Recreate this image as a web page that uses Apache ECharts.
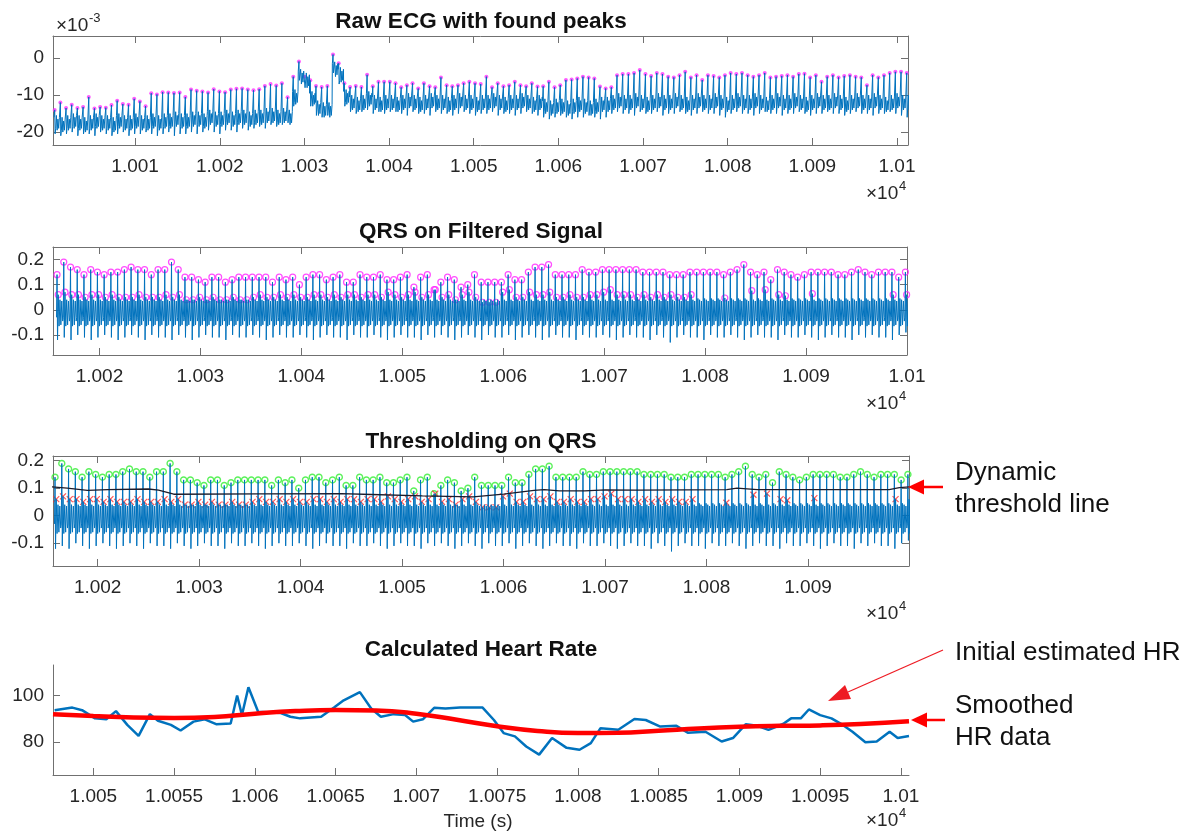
<!DOCTYPE html>
<html>
<head>
<meta charset="utf-8">
<title>ECG peak detection</title>
<script src="https://cdn.jsdelivr.net/npm/echarts@6/dist/echarts.min.js"></script>
<style>
  html, body { margin: 0; padding: 0; background: #fff; }
  #chart { width: 1196px; height: 838px; }
</style>
</head>
<body>
<div id="chart"></div>
<script>
// ---- raw ECG, one value per beat, in units of 1e-3 ----
const rawStart = 10000.5;   // first R peak (s)
const rawPeriod = 0.671;    // mean RR interval (s)
const rawPeak = [
  -14,-12,-13.5,-12.6,-13.5,-13.2,-10.5,-13.6,-13.2,-13.4,-12.7,-11.5,-12.4,-12.6,-11,-11.7,-13,
  -9.5,-9.8,-9.2,-9.3,-9.4,-9.3,-10.5,
  -8.5,-8.8,-9,-9.3,-8.4,-9,-9.2,-8.5,-8.3,-8.2,-8.5,-8.7,
  -8.4,-7.5,-7,-7.4,-6.8,-10.6,
  -5,-0.9,-5,-6,-7.5,-7.8,-7.5,1,-1.4,-6.8,-7.8,-7.5,-7.8,-4.5,-7.6,-6.4,-6.4,-6.4,-6.8,
  -7.9,-7.3,-6.8,-8.2,-6.8,-7.6,-7.9,-5.2,-7.3,-7.6,
  -7.3,-6.8,-6.4,-6.8,-7.0,-5.0,-7.9,-6.8,-7.6,-7.3,
  -6.4,-7.3,-7.6,-6.8,-7.7,-7.6,-6.4,-7.9,-7.3,-5.9,
  -5.8,-5.5,-5.0,-5.2,-5.5,-7.7,-8.2,-7.9,-4.6,-4.3,
  -4.3,-4.0,-3.2,-4.3,-4.8,-4.0,-4.3,-5.0,-5.2,-4.6,
  -3.7,-5.2,-4.6,-5.9,-4.6,-4.8,-5.2,-4.6,-4.0,-4.3,
  -4.0,-4.6,-5.0,-4.6,-4.0,-5.2,-5.0,-4.8,-4.6,-5.0,
  -4.3,-4.2,-5.2,-4.6,-6.4,-5.0,-4.6,-5.2,-4.8,-4.6,
  -5.0,-5.2,-7.3,-4.6,-5.2,-4.6,-4.0,-3.7,-3.7,-4.0
];
const rawBase = [
  -16,-16.5,-16,-15.5,-16,-16.5,-16,-15.5,-16,-16,-16.5,-15.5,-16,-16,-15.5,-16,-16,
  -15.5,-16,-15.5,-15.5,-15,-15.5,-15.5,
  -15,-15,-15.5,-14.5,-15,-15,-14.5,-15,-14.5,-14.5,-15,-14.5,
  -14.5,-14,-14,-14.5,-14,-14.5,
  -9,-3.5,-4.5,-9.5,-12,-12.5,-12.5,-1.5,-3,-9,-10.5,-11,-10.5,-9.5,-10.5,-11,-10.5,-10.5,-11,
  -10.5,-10,-10.5,-11,-10.5,-10,-10.5,-10.5,-11,-10.5,-10,-10.5,-10.5,-11,-10.5,-10.5,-10,-10.5,-11,-10.5,-10.5,-10,-10.5,-11,-10.5,
  -11.5,-12,-11.5,-11.5,-12,-11.5,-11,-11.5,-12,-11.5,-11,-11,
  -10.5,-10,-10.5,-10.5,-10,-10.5,-11,-10.5,-10,-10.5,
  -10.5,-10,-10.5,-11,-10.5,-10,-10.5,-10.5,-10,-10.5,
  -11,-10.5,-10,-10.5,-10.5,-10,-10.5,-11,-10.5,-10,
  -10.5,-10.5,-10,-10.5,-11,-10.5,-10,-10.5,-10.5,-10,
  -10.5,-11,-10.5,-10,-10.5,-10.5,-10,-10.5,-11,-10.5,
  -10,-10.5,-10.5
];
const rawTrough = [
  -20.5,-21,-20.5,-20,-21,-20.5,-20.5,-21,-20,-20.5,-21,-20.5,-20,-21,-20.5,-20.5,-20,
  -20.5,-21,-20.5,-20,-21,-20.5,-20.5,
  -20,-20.5,-20,-19.5,-20,-20.5,-19.5,-19.5,-20,-19,-19.5,-19,
  -18.5,-19,-18,-18.5,-18,-17.5,
  -13,-6,-8,-13,-15.5,-16,-15.5,-4,-7,-13,-14.5,-15,-14.5,-14,-15,-14.5,-15,-14.5,-14.5,
  -15,-15.5,-14.5,-15,-15,-15.5,-14.5,-15,-15,-15.5,-15,-14.5,-15,-15.5,-15,-15,-14.5,-15.5,-15,-15,-15.5,-15,-14.5,-15,-15.5,
  -16,-16.5,-16,-15.5,-16,-16.5,-16,-16,-15.5,-16,-16.5,-16,
  -15,-14.5,-15,-15,-15.5,-14.5,-15,-15,-14.5,-15.5,
  -15,-15,-14.5,-15,-15.5,-15,-14.5,-15,-15,-15.5,
  -16,-15,-14.5,-15,-15,-15.5,-15,-14.5,-15,-15,
  -15.5,-15,-15,-14.5,-15,-15.5,-15,-15,-14.5,-15,
  -15,-15.5,-15,-14.5,-15,-15,-15.5,-15,-15,-14.5,
  -15,-15.5,-16
];
// band between beats, relative to the baseline
const rawFillOffset = [0.12, 0.2, 0.29, 0.38, 0.47, 0.56];
const rawFillLevel = [-3, 0.5, -3.5, -0.5, -3, 0];

// ---- QRS-filtered signal, one value per beat ----
const qrsStart = 10015.8;
const qrsPeriod = 0.667;
const qrsPeak = [
  0.14,0.19,0.17,0.16,0.14,0.16,0.15,0.14,0.15,0.15,
  0.16,0.17,0.16,0.16,0.14,0.16,0.16,0.19,0.16,0.13,
  0.13,0.12,0.11,0.13,0.13,0.11,0.12,0.13,0.13,0.13,
  0.13,0.13,0.11,0.13,0.12,0.13,0.10,0.13,0.14,0.14,
  0.12,0.13,0.14,0.11,0.11,0.14,0.13,0.13,0.14,0.12,
  0.12,0.13,0.14,0.09,0.13,0.14,0.08,0.11,0.13,0.12,
  0.09,0.10,
  0.14,0.11,0.11,0.11,0.11,0.14,0.12,0.12,0.15,0.17,
  0.17,0.18,0.14,0.14,0.14,0.14,0.16,0.15,0.15,0.16,
  0.16,0.16,0.16,0.16,0.16,0.15,0.15,0.15,0.15,0.14,
  0.14,0.14,0.15,0.15,0.15,0.15,0.15,0.14,0.15,0.16,
  0.18,0.15,0.14,0.15,0.12,0.16,0.15,0.14,0.13,0.14,
  0.15,0.15,0.15,0.15,0.14,0.14,0.15,0.16,0.15,0.14,
  0.15,0.15,0.15,0.13,0.15
];
const qrsTrough = [
  -0.12,-0.11,-0.12,-0.10,-0.11,-0.12,-0.11,-0.10,-0.11,-0.12,
  -0.11,-0.10,-0.11,-0.12,-0.10,-0.11,-0.11,-0.12,-0.10,-0.11,
  -0.12,-0.11,-0.10,-0.11,-0.11,-0.12,-0.10,-0.11,-0.11,-0.10,
  -0.11,-0.12,-0.11,-0.10,-0.11,-0.11,-0.10,-0.11,-0.12,-0.11,
  -0.10,-0.11,-0.11,-0.12,-0.10,-0.11,-0.11,-0.10,-0.11,-0.12,
  -0.11,-0.10,-0.11,-0.11,-0.12,-0.10,-0.11,-0.10,-0.11,-0.12,
  -0.11,-0.10,-0.11,-0.12,-0.10,-0.11,-0.11,-0.10,-0.12,-0.11,
  -0.10,-0.11,-0.12,-0.11,-0.10,-0.11,-0.11,-0.12,-0.10,-0.11,
  -0.11,-0.10,-0.11,-0.12,-0.11,-0.10,-0.11,-0.11,-0.12,-0.10,
  -0.11,-0.13,-0.11,-0.10,-0.11,-0.11,-0.12,-0.10,-0.11,-0.11,
  -0.10,-0.11,-0.12,-0.11,-0.10,-0.11,-0.11,-0.12,-0.10,-0.11,
  -0.11,-0.10,-0.11,-0.12,-0.11,-0.10,-0.11,-0.11,-0.12,-0.10,
  -0.11,-0.10,-0.11,-0.11,-0.12,-0.10,-0.09
];
// secondary (sub-threshold) peaks, null where none was found
const qrsSecond = [
  0.06,0.07,0.06,0.06,0.05,0.06,0.06,0.05,0.06,0.05,
  0.05,0.05,0.06,0.05,0.05,0.05,0.06,0.05,0.06,0.04,
  0.04,0.05,0.04,0.05,0.04,0.04,0.05,0.04,0.04,0.05,
  0.06,0.05,0.05,0.06,0.05,0.06,0.05,0.05,0.06,0.06,
  0.05,0.06,0.05,0.06,0.06,0.05,0.06,0.06,0.05,0.07,
  0.06,0.05,0.06,0.07,0.05,0.06,0.08,0.05,0.06,0.04,
  0.06,0.07,
  0.05,0.03,0.03,0.03,0.07,0.08,0.05,0.05,0.07,0.06,
  0.06,0.07,0.05,0.05,0.06,0.05,0.05,0.06,0.06,0.07,
  0.08,0.06,0.06,0.06,0.05,0.06,0.05,0.06,0.05,0.06,
  0.05,0.05,
  0.06,null,null,null,null,0.047,null,null,null,0.076,
  null,0.08,null,0.06,0.056,null,null,null,0.064,null,
  null,null,null,null,null,null,null,null,null,null,
  0.06,null,0.06
];
const qrsFillOffset = [0.12, 0.2, 0.29, 0.38, 0.47, 0.56];
const qrsFillLevel = [0.045, -0.065, 0.04, -0.06, 0.035, -0.045];

// dynamic threshold
const threshTime = [10015.5,10017,10019,10021,10025,10026,10027.5,10036,10044,10047,10052,10057,10060,10063,10064,10065.5,10068,10070,10073,10078,10082,10083,10085,10095,10098,10099,10100];
const threshValue = [0.105,0.100,0.092,0.095,0.097,0.093,0.078,0.079,0.080,0.077,0.072,0.068,0.078,0.092,0.095,0.090,0.090,0.094,0.093,0.094,0.095,0.100,0.095,0.095,0.095,0.102,0.105];

// ---- heart rate ----
const hrTime = [10047.6,10048.7,10049.3,10050.1,10050.8,10051.4,10052.1,10052.8,10053.5,10054.0,10054.8,10055.4,10056.2,10056.9,10057.6,10058.5,10058.9,10059.2,10059.6,10060.2,10061.6,10062.2,10062.8,10064.1,10064.9,10065.5,10066.5,10067.2,10067.8,10068.6,10069.3,10069.8,10070.4,10071.1,10071.8,10072.7,10074.1,10074.8,10075.4,10076.1,10076.8,10077.6,10078.4,10079.3,10080.1,10080.8,10081.4,10082.5,10083.5,10084.2,10085.1,10086.1,10086.8,10087.9,10088.9,10089.6,10090.4,10091.1,10091.8,10092.7,10093.2,10093.8,10094.3,10095.0,10095.7,10096.4,10097.0,10097.8,10098.5,10099.3,10099.8,10100.5];
const hrValue = [93.7,94.8,93.7,90.2,89.8,93.3,87.4,82.7,92.0,89.2,87.4,85.0,88.8,89.8,87.7,88.0,100.0,91.6,103.5,93.0,92.5,90.9,90.2,90.9,94.8,97.9,101.4,94.4,90.9,92.0,91.6,88.8,89.8,94.7,94.4,94.8,94.8,89.5,83.9,82.5,78.2,74.7,81.8,77.6,76.8,79.6,86.0,85.3,89.9,89.5,86.7,87.0,84.1,84.5,80.3,81.8,87.7,87.0,85.3,87.8,90.2,90.2,94.0,91.6,90.2,87.4,84.5,80.0,80.3,84.5,81.8,82.7];
const smoothTime = [10047.5,10050,10052.5,10055,10057.5,10060,10062.5,10065,10067.5,10070,10072.5,10075,10077.5,10080,10082.5,10085,10087.5,10090,10092.5,10095,10097.5,10100.5];
const smoothValue = [92.0,91.2,90.6,90.4,90.8,92.2,93.3,93.8,93.6,92.2,89.6,86.8,84.8,83.9,84.0,84.9,85.9,86.6,87.0,87.2,87.8,89.0];

// ---- ticks ----
const ticksX1 = [10010,10020,10030,10040,10050,10060,10070,10080,10090,10100];
const ticksX2 = [10020,10030,10040,10050,10060,10070,10080,10090,10100];
const ticksX3 = [10020,10030,10040,10050,10060,10070,10080,10090];
const ticksX4 = [10050,10055,10060,10065,10070,10075,10080,10085,10090,10095,10100];
const ticksY1 = [-20,-10,0];
const ticksY2 = [-0.1,0,0.1,0.2];
const ticksY4 = [80,100];

// ---------------------------------------------------------------
const FONT = '"Liberation Sans", Arial, Helvetica, sans-serif';
const AXIS = '#707070';
const TEXT = '#262626';
const BLUE = '#0072BD';

const fmtX = v => String(parseFloat((v / 1e4).toFixed(5)));
const fmtY = v => String(parseFloat(v.toFixed(3)));

function rawSignal() {
  const pts = [];
  rawPeak.forEach((p, i) => {
    const t = rawStart + i * rawPeriod;
    pts.push([t - 0.08, rawBase[i]], [t, p], [t + 0.05, rawTrough[i]]);
    rawFillOffset.forEach((o, j) => pts.push([t + o, rawBase[i] + rawFillLevel[j]]));
  });
  return pts;
}
function qrsSignal() {
  const pts = [];
  qrsPeak.forEach((p, i) => {
    const t = qrsStart + i * qrsPeriod;
    pts.push([t - 0.05, -0.03], [t, p], [t + 0.05, qrsTrough[i]]);
    qrsFillOffset.forEach((o, j) => {
      const v = (j === 0 && qrsSecond[i] != null) ? qrsSecond[i] : qrsFillLevel[j];
      pts.push([t + o, v]);
    });
  });
  return pts;
}
const rawPeakPts = rawPeak.map((p, i) => [rawStart + i * rawPeriod, p]);
const qrsPeakPts = qrsPeak.map((p, i) => [qrsStart + i * qrsPeriod, p]);
const qrsSecondPts = qrsSecond.map((p, i) => [qrsStart + i * qrsPeriod + qrsFillOffset[0], p]).filter(d => d[1] != null);

function xAxis(grid, min, max, ticks, labels) {
  return {
    type: 'value', gridIndex: grid, min, max, position: 'bottom',
    axisLine: { show: true, onZero: false, lineStyle: { color: AXIS, width: 1 } },
    axisTick: { show: true, inside: true, length: 7, customValues: ticks, lineStyle: { color: AXIS } },
    axisLabel: { show: labels, customValues: ticks, formatter: fmtX, color: TEXT, fontSize: 19, margin: 12, fontFamily: FONT },
    splitLine: { show: false }
  };
}
function xAxisTop(grid, min, max, ticks) {
  return {
    type: 'value', gridIndex: grid, min, max, position: 'top',
    axisLine: { show: true, onZero: false, lineStyle: { color: AXIS, width: 1 } },
    axisTick: { show: true, inside: true, length: 7, customValues: ticks, lineStyle: { color: AXIS } },
    axisLabel: { show: false }, splitLine: { show: false }
  };
}
function yAxis(grid, min, max, ticks, side) {
  return {
    type: 'value', gridIndex: grid, min, max, position: side,
    axisLine: { show: true, onZero: false, lineStyle: { color: AXIS, width: 1 } },
    axisTick: { show: true, inside: true, length: 7, customValues: ticks, lineStyle: { color: AXIS } },
    axisLabel: { show: side === 'left', customValues: ticks, formatter: fmtY, color: TEXT, fontSize: 19, margin: 9, fontFamily: FONT },
    splitLine: { show: false }
  };
}

const chart = echarts.init(document.getElementById('chart'), null, { renderer: 'canvas' });

function txt(x, y, text, size, opts) {
  return {
    type: 'text', x, y, silent: true, z: 100,
    style: Object.assign({ text, fontSize: size, fontFamily: FONT, fill: '#111', textAlign: 'left', textVerticalAlign: 'middle' }, opts || {})
  };
}
function times10(x, y, exp) {
  return [txt(x, y, '\u00d710', 19, { fill: TEXT }), txt(x + 33, y - 8, exp, 13, { fill: TEXT })];
}

const graphics = [
  txt(481, 22, 'Raw ECG with found peaks', 22.5, { fontWeight: 'bold', textAlign: 'center' }),
  txt(481, 232, 'QRS on Filtered Signal', 22.5, { fontWeight: 'bold', textAlign: 'center' }),
  txt(481, 442, 'Thresholding on QRS', 22.5, { fontWeight: 'bold', textAlign: 'center' }),
  txt(481, 650, 'Calculated Heart Rate', 22.5, { fontWeight: 'bold', textAlign: 'center' }),
  txt(478, 822, 'Time (s)', 19, { fill: TEXT, textAlign: 'center' }),
  ...times10(56, 26, '-3'),
  ...times10(866, 194, '4'),
  ...times10(866, 404, '4'),
  ...times10(866, 614, '4'),
  ...times10(866, 821, '4'),
  // annotations
  txt(955, 473, 'Dynamic', 26),
  txt(955, 505, 'threshold line', 26),
  txt(955, 653, 'Initial estimated HR', 26),
  txt(955, 706, 'Smoothed', 26),
  txt(955, 738, 'HR data', 26),
  { type: 'line', z: 100, shape: { x1: 943, y1: 487, x2: 921, y2: 487 }, style: { stroke: '#ff0000', lineWidth: 2.5 } },
  { type: 'polygon', z: 100, shape: { points: [[908, 487], [924, 479.5], [924, 494.5]] }, style: { fill: '#ff0000' } },
  { type: 'line', z: 100, shape: { x1: 943, y1: 650, x2: 848, y2: 692 }, style: { stroke: '#ee1c24', lineWidth: 1.3 } },
  { type: 'polygon', z: 100, shape: { points: [[828, 701], [851, 699], [845, 685]] }, style: { fill: '#ee1c24' } },
  { type: 'line', z: 100, shape: { x1: 945, y1: 720, x2: 924, y2: 720 }, style: { stroke: '#ff0000', lineWidth: 2.5 } },
  { type: 'polygon', z: 100, shape: { points: [[911, 720], [927, 712.5], [927, 727.5]] }, style: { fill: '#ff0000' } }
];

const option = {
  backgroundColor: '#ffffff',
  animation: false,
  grid: [
    { left: 53, top: 36, width: 855, height: 109 },
    { left: 53, top: 247, width: 854, height: 108 },
    { left: 53, top: 456, width: 856, height: 110 },
    { left: 53, top: 665, width: 856, height: 110 }
  ],
  xAxis: [
    xAxis(0, 10000.3, 10101.3, ticksX1, true),
    xAxisTop(0, 10000.3, 10101.3, ticksX1),
    xAxis(1, 10015.4, 10100, ticksX2, true),
    xAxisTop(1, 10015.4, 10100, ticksX2),
    xAxis(2, 10015.6, 10099.95, ticksX3, true),
    xAxisTop(2, 10015.6, 10099.95, ticksX3),
    xAxis(3, 10047.5, 10100.5, ticksX4, true)
  ],
  yAxis: [
    yAxis(0, -23.5, 6, ticksY1, 'left'),
    yAxis(0, -23.5, 6, ticksY1, 'right'),
    yAxis(1, -0.18, 0.25, ticksY2, 'left'),
    yAxis(1, -0.18, 0.25, ticksY2, 'right'),
    yAxis(2, -0.183, 0.217, ticksY2, 'left'),
    yAxis(2, -0.183, 0.217, ticksY2, 'right'),
    yAxis(3, 66, 113, ticksY4, 'left')
  ],
  series: [
    { type: 'line', xAxisIndex: 0, yAxisIndex: 0, data: rawSignal(), symbol: 'none', clip: true,
      lineStyle: { color: BLUE, width: 1 } },
    { type: 'scatter', xAxisIndex: 0, yAxisIndex: 0, data: rawPeakPts, symbol: 'circle', symbolSize: 4,
      itemStyle: { color: '#ff33ff' } },

    { type: 'line', xAxisIndex: 2, yAxisIndex: 2, data: qrsSignal(), symbol: 'none', clip: true,
      lineStyle: { color: BLUE, width: 1 } },
    { type: 'scatter', xAxisIndex: 2, yAxisIndex: 2, data: qrsPeakPts, symbol: 'circle', symbolSize: 6,
      itemStyle: { color: 'rgba(0,0,0,0)', borderColor: '#ff22ff', borderWidth: 1.2 } },
    { type: 'scatter', xAxisIndex: 2, yAxisIndex: 2, data: qrsSecondPts, symbol: 'circle', symbolSize: 6,
      itemStyle: { color: 'rgba(0,0,0,0)', borderColor: '#ff22ff', borderWidth: 1.2 } },

    { type: 'line', xAxisIndex: 4, yAxisIndex: 4, data: qrsSignal(), symbol: 'none', clip: true,
      lineStyle: { color: BLUE, width: 1 } },
    { type: 'line', xAxisIndex: 4, yAxisIndex: 4, data: threshTime.map((t, i) => [t, threshValue[i]]),
      symbol: 'none', clip: true, lineStyle: { color: '#1c1c2c', width: 1.3 } },
    { type: 'scatter', xAxisIndex: 4, yAxisIndex: 4, data: qrsPeakPts, symbol: 'circle', symbolSize: 6,
      itemStyle: { color: 'rgba(0,0,0,0)', borderColor: '#33ee33', borderWidth: 1.4 } },
    { type: 'scatter', xAxisIndex: 4, yAxisIndex: 4, data: qrsSecondPts, symbol: 'path://M0,0L10,10M10,0L0,10',
      symbolSize: 6, itemStyle: { color: 'rgba(0,0,0,0)', borderColor: '#ff2a2a', borderWidth: 1.2 } },

    { type: 'line', xAxisIndex: 6, yAxisIndex: 6, data: hrTime.map((t, i) => [t, hrValue[i]]), symbol: 'none',
      clip: true, lineStyle: { color: BLUE, width: 2.5 } },
    { type: 'line', xAxisIndex: 6, yAxisIndex: 6, data: smoothTime.map((t, i) => [t, smoothValue[i]]), symbol: 'none',
      smooth: 0.5, clip: true, lineStyle: { color: '#ff0000', width: 4.5 } }
  ],
  graphic: graphics
};

chart.setOption(option);
</script>
</body>
</html>
